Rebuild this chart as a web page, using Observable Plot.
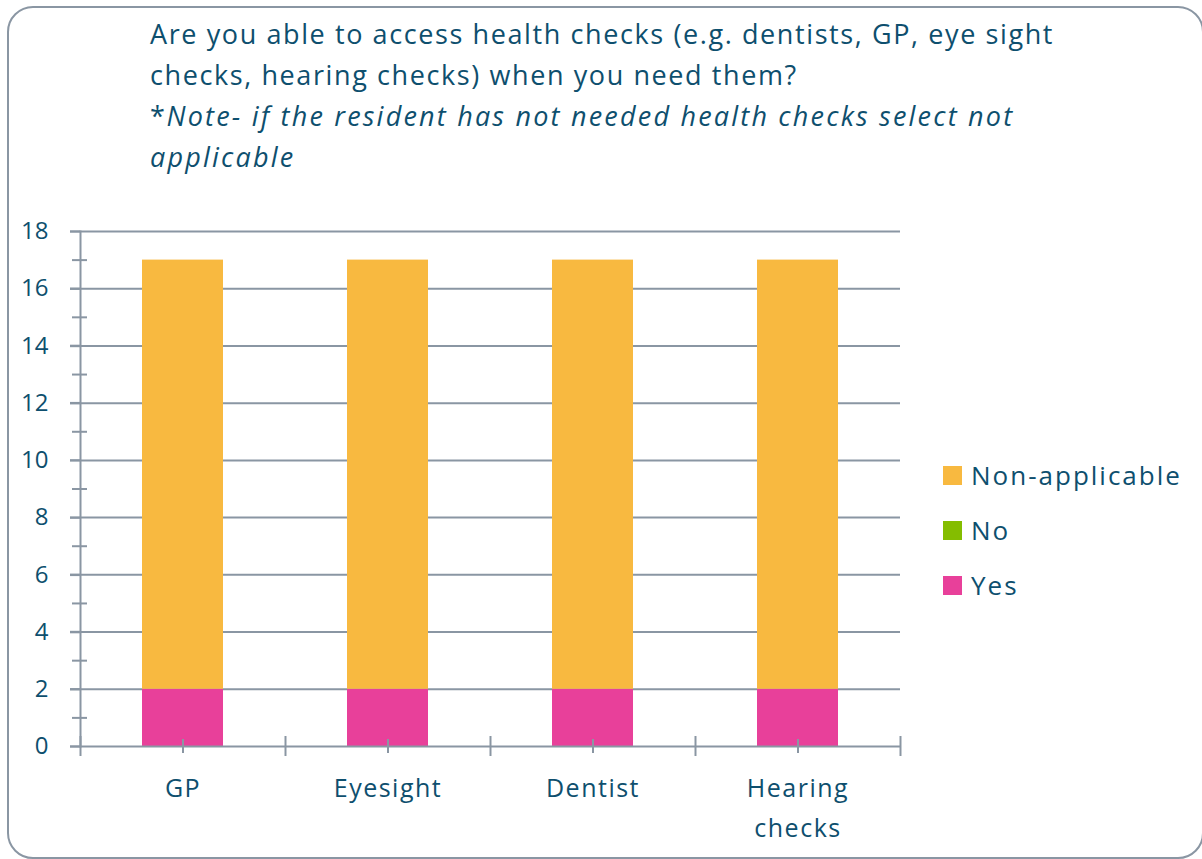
<!DOCTYPE html>
<html><head><meta charset="utf-8">
<script src="https://cdn.jsdelivr.net/npm/d3@7"></script>
<script src="https://cdn.jsdelivr.net/npm/@observablehq/plot@0.6"></script>
<style>
body{margin:0;background:#fff;font-family:"Open Sans",sans-serif;width:1202px;height:859px;overflow:hidden;position:relative}
#card{position:absolute;left:7px;top:6px;width:1197px;height:853px;box-sizing:border-box;border:2px solid #8a96a3;border-radius:26px;}
#title{position:absolute;left:150px;top:13px;font-size:27px;line-height:41px;color:#0e4f6e;white-space:nowrap;letter-spacing:1.6px}
#title i{font-style:italic;letter-spacing:2.2px}
#chart{position:absolute;left:0;top:0}
#chart svg g[aria-label="x-axis tick label"] text{letter-spacing:1.5px}
#legend{position:absolute;left:943px;top:0;color:#0e4f6e;font-size:26px;letter-spacing:2px}
.row{position:absolute;left:0;display:flex;align-items:center;white-space:nowrap;height:30px}
.sw{width:19px;height:19px;margin-right:9px}
</style></head>
<body>
<div id="card"></div>
<div id="title">Are you able to access health checks (e.g. dentists, GP, eye sight<br>checks, hearing checks) when you need them?<br>*<i>Note- if the resident has not needed health checks select not</i><br><i>applicable</i></div>
<div id="chart"></div>
<div id="legend"></div>
<script>
const categories = ["GP", "Eyesight", "Dentist", "Hearing\nchecks"];
const seriesNames = ["Yes", "No", "Non-applicable"];
const yesValues = [2, 2, 2, 2];
const noValues = [0, 0, 0, 0];
const naValues = [15, 15, 15, 15];
const seriesColors = ["#E8409A", "#84BD00", "#F8B940"];
const yMajorTicks = [0, 2, 4, 6, 8, 10, 12, 14, 16, 18];
const yMinorTicks = [1, 3, 5, 7, 9, 11, 13, 15, 17];

const seriesValues = [yesValues, noValues, naValues];
const data = [];
seriesNames.forEach((s, si) => categories.forEach((c, ci) => data.push({category: c, series: s, value: seriesValues[si][ci]})));

const W = 1202, H = 859, mL = 80, mR = 302, mT = 231, mB = 113;
const step = (W - mL - mR) / categories.length;
const axisColor = "#8a96a3";
const textColor = "#0e4f6e";
const font = "'Open Sans', sans-serif";

const chart = Plot.plot({
  width: W, height: H,
  marginLeft: mL, marginRight: mR, marginTop: mT, marginBottom: mB,
  style: {fontFamily: font, background: "transparent", color: textColor},
  x: {domain: categories, padding: 0, label: null},
  y: {domain: [0, 18], label: null},
  color: {domain: seriesNames, range: seriesColors},
  marks: [
    Plot.ruleY(yMajorTicks.filter(d => d > 0), {stroke: axisColor, strokeWidth: 2}),
    Plot.barY(data, {x: "category", y: "value", fill: "series", insetLeft: 62, insetRight: 62}),
    Plot.ruleY([0], {stroke: axisColor, strokeWidth: 2}),
    Plot.frame({anchor: "left", stroke: axisColor, strokeWidth: 2}),
    Plot.axisY({ticks: yMajorTicks, tickSize: 10, tickPadding: 22, fontSize: 24, stroke: axisColor, strokeWidth: 2.5, fill: textColor}),
    Plot.axisY({ticks: yMinorTicks, tickSize: 15, dx: 7, text: null, stroke: axisColor, strokeWidth: 2}),
    Plot.axisX({ticks: categories, tickSize: 20, dy: -10, dx: -step / 2, text: null, stroke: axisColor, strokeWidth: 2}),
    Plot.axisX({ticks: categories.slice(-1), tickSize: 20, dy: -10, dx: step / 2, text: null, stroke: axisColor, strokeWidth: 2}),
    Plot.axisX({ticks: categories, tickSize: 14, dy: -7, text: null, stroke: axisColor, strokeWidth: 2}),
    Plot.axisX({ticks: categories, tickSize: 0, tickPadding: 22, fontSize: 25, lineHeight: 1.6, fill: textColor})
  ]
});
document.getElementById("chart").appendChild(chart);

const legend = document.getElementById("legend");
const legendTops = [460, 515, 570];
seriesNames.slice().reverse().forEach((s, i) => {
  const row = document.createElement("div");
  row.className = "row";
  row.style.top = legendTops[i] + "px";
  const sw = document.createElement("div");
  sw.className = "sw";
  sw.style.background = seriesColors[seriesNames.indexOf(s)];
  const t = document.createElement("span");
  t.textContent = s;
  row.appendChild(sw); row.appendChild(t);
  legend.appendChild(row);
});
</script>
</body></html>
